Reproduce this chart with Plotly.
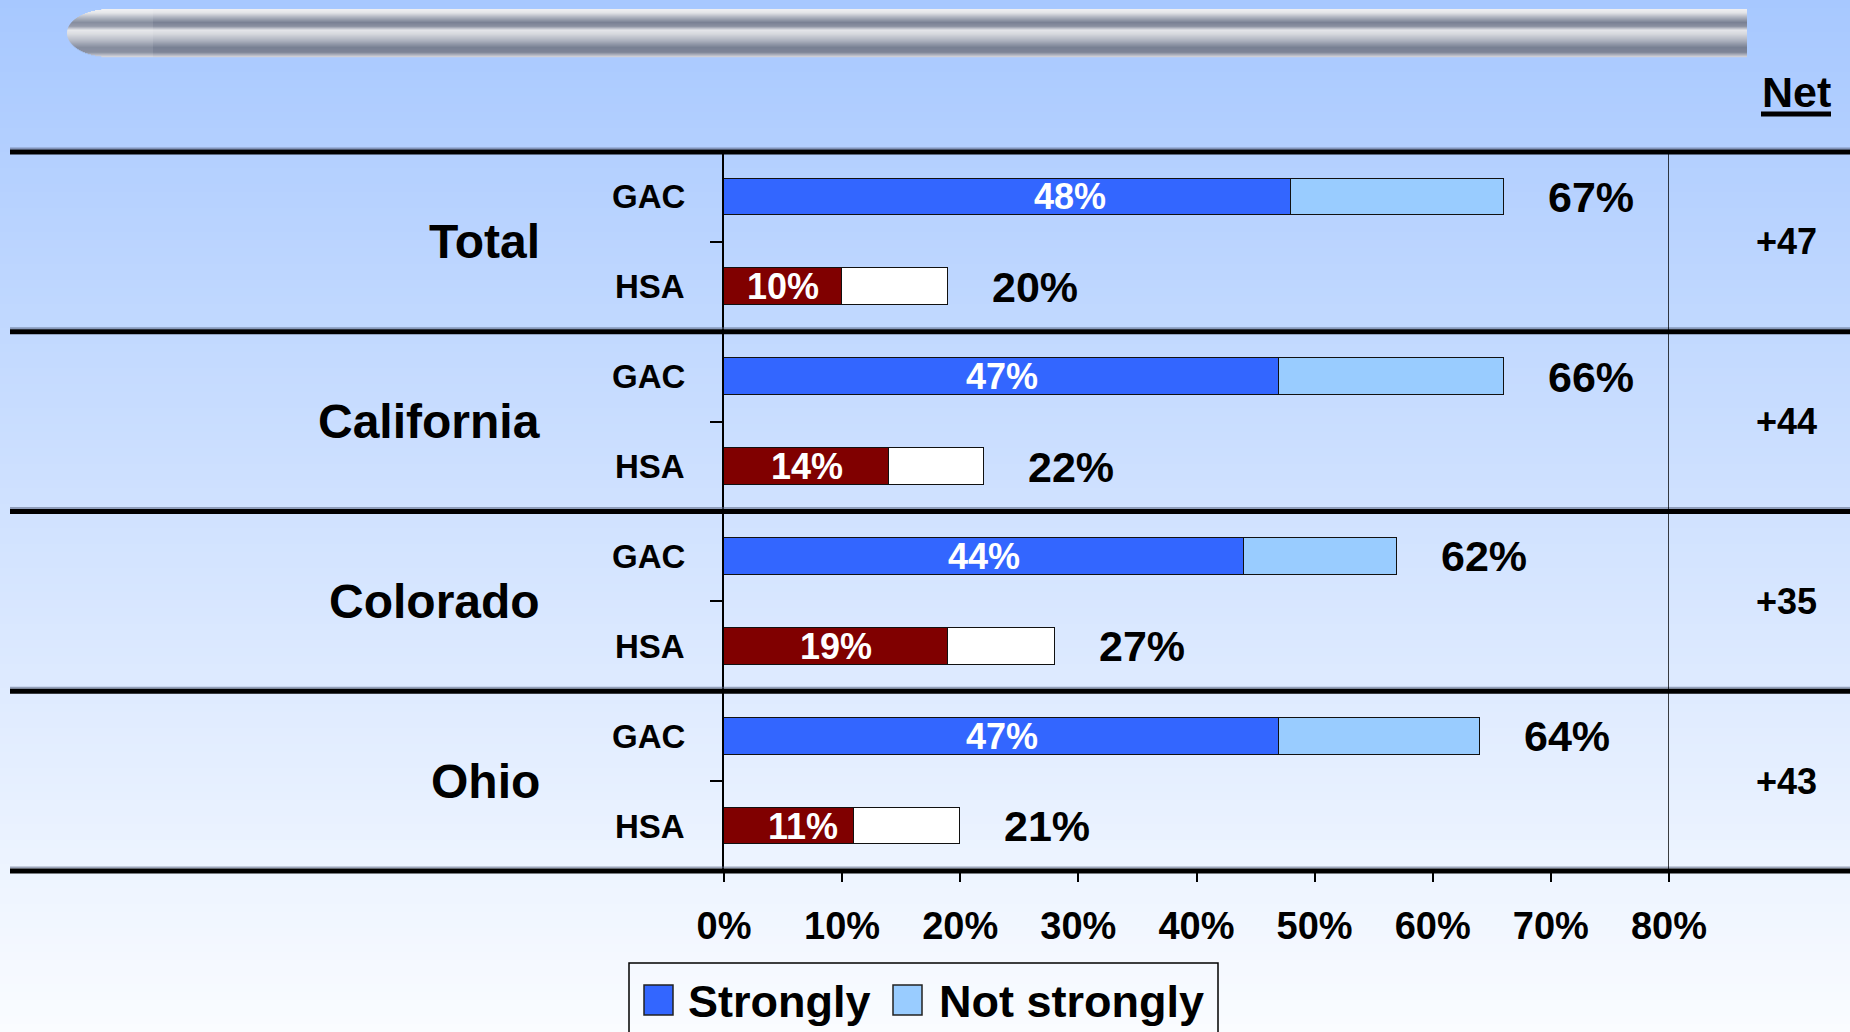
import plotly.graph_objects as go

# ---------------- data ----------------
groups = ["Total", "California", "Colorado", "Ohio"]
items = ["GAC", "HSA"]
gac_strongly = [48, 47, 44, 47]
gac_not_strongly = [18, 19, 13, 17]
hsa_strongly = [10, 14, 19, 11]
hsa_not_strongly = [9, 8, 9, 9]
gac_total_label = [67, 66, 62, 64]
hsa_total_label = [20, 22, 27, 21]
net_values = [47, 44, 35, 43]
series_names = ["Strongly", "Not strongly"]
x_ticks = [0, 10, 20, 30, 40, 50, 60, 70, 80]

# ---------------- style ----------------
FONT = "Liberation Sans, Arial, sans-serif"
GAC_COLORS = ["#3366FF", "#99CCFF"]
HSA_COLORS = ["#800000", "#FFFFFF"]
FIG_W, FIG_H = 1850, 1032
L, R, T, B = 724, 1669, 152, 871
W, H = R - L, B - T
N_ROWS = 2 * len(groups)


def px_x(px):
    return (px - L) / W


def px_y(py):
    return (B - py) / H


# rows: group g -> GAC at 2g, HSA at 2g+1
rows_y, strong_vals, weak_vals, strong_cols, weak_cols = [], [], [], [], []
total_labels = []
for g in range(len(groups)):
    rows_y += [2 * g, 2 * g + 1]
    strong_vals += [gac_strongly[g], hsa_strongly[g]]
    weak_vals += [gac_not_strongly[g], hsa_not_strongly[g]]
    strong_cols += [GAC_COLORS[0], HSA_COLORS[0]]
    weak_cols += [GAC_COLORS[1], HSA_COLORS[1]]
    total_labels += [gac_total_label[g], hsa_total_label[g]]

# small pixel nudges of inner labels as placed in the original
inner_nudge = {0: 62, 7: 14}

fig = go.Figure()
fig.add_trace(go.Bar(
    y=rows_y, x=strong_vals, orientation="h", width=0.41,
    marker=dict(color=strong_cols, line=dict(color="#111111", width=1.5)),
    name=series_names[0], showlegend=False, hoverinfo="skip"))
fig.add_trace(go.Bar(
    y=rows_y, x=weak_vals, orientation="h", width=0.41,
    marker=dict(color=weak_cols, line=dict(color="#111111", width=1.5)),
    name=series_names[1], showlegend=False, hoverinfo="skip"))

shapes = []
annotations = []


def lerp(c0, c1, t):
    return tuple(round(a + (b - a) * t) for a, b in zip(c0, c1))


# background gradient
top_c, bot_c = (167, 200, 255), (250, 252, 255)
band = 8
for py in range(0, FIG_H, band):
    c = lerp(top_c, bot_c, (py + band / 2) / FIG_H)
    shapes.append(dict(type="rect", xref="paper", yref="paper", layer="below",
                       x0=px_x(-5), x1=px_x(FIG_W + 5),
                       y0=px_y(py + band + 1), y1=px_y(py),
                       fillcolor="rgb(%d,%d,%d)" % c, line=dict(width=0)))

# metallic cylinder at top
prof = [(0.0, (240, 240, 242)), (0.08, (226, 227, 231)), (0.18, (170, 175, 188)),
        (0.28, (122, 129, 148)), (0.36, (138, 144, 161)), (0.44, (228, 229, 233)),
        (0.52, (214, 216, 221)), (0.66, (172, 177, 190)), (0.80, (120, 128, 147)),
        (0.90, (126, 133, 151)), (1.0, (214, 215, 221))]


def prof_col(t):
    for (t0, c0), (t1, c1) in zip(prof[:-1], prof[1:]):
        if t0 <= t <= t1:
            return lerp(c0, c1, (t - t0) / (t1 - t0))
    return prof[-1][1]


cy_top, cy_bot = 9, 57
cx, rx = 110, 43
cyc, ry = (cy_top + cy_bot) / 2, (cy_bot - cy_top) / 2
for py in range(cy_top, cy_bot):
    t = (py + 0.5 - cy_top) / (cy_bot - cy_top)
    c = prof_col(t)
    cap = lerp(c, (255, 255, 255), 0.10)
    d = (py + 0.5 - cyc) / ry
    left = cx - rx * max(0.0, 1 - d * d) ** 0.5
    shapes.append(dict(type="rect", xref="paper", yref="paper", layer="below",
                       x0=px_x(left), x1=px_x(153), y0=px_y(py + 1.3), y1=px_y(py),
                       fillcolor="rgb(%d,%d,%d)" % cap, line=dict(width=0)))
    shapes.append(dict(type="rect", xref="paper", yref="paper", layer="below",
                       x0=px_x(153), x1=px_x(1747), y0=px_y(py + 1.3), y1=px_y(py),
                       fillcolor="rgb(%d,%d,%d)" % c, line=dict(width=0)))

# thick horizontal separators (paper refs so they are not clipped)
for k in range(len(groups) + 1):
    yp = 1 - (2 * k) / N_ROWS
    shapes.append(dict(type="line", xref="paper", yref="paper",
                       x0=px_x(10), x1=px_x(FIG_W + 5), y0=yp + 3.5 / H, y1=yp + 3.5 / H,
                       line=dict(color="rgba(90,100,130,0.55)", width=2)))
    shapes.append(dict(type="line", xref="paper", yref="paper",
                       x0=px_x(10), x1=px_x(FIG_W + 5), y0=yp, y1=yp,
                       line=dict(color="black", width=5)))

# right vertical line at 80%
shapes.append(dict(type="line", xref="x", yref="paper", x0=80, x1=80, y0=0, y1=1,
                   line=dict(color="black", width=1.5)))

# "Net" header with underline
annotations.append(dict(xref="paper", yref="paper", x=px_x(1796), y=px_y(92),
                        text="Net", showarrow=False, xanchor="center", yanchor="middle",
                        font=dict(family=FONT, size=43, color="black", weight=700)))
shapes.append(dict(type="line", xref="paper", yref="paper",
                   x0=px_x(1761), x1=px_x(1831), y0=px_y(114), y1=px_y(114),
                   line=dict(color="black", width=5)))

for g, name in enumerate(groups):
    annotations.append(dict(xref="paper", yref="y", x=px_x(542), y=2 * g + 0.5,
                            text=name, showarrow=False, xanchor="right", yanchor="middle",
                            font=dict(family=FONT, size=48, color="black", weight=700)))
    annotations.append(dict(xref="paper", yref="y", x=px_x(1786), y=2 * g + 0.5,
                            text="+%d" % net_values[g], showarrow=False,
                            xanchor="center", yanchor="middle",
                            font=dict(family=FONT, size=36, color="black", weight=700)))

for i, yv in enumerate(rows_y):
    annotations.append(dict(xref="paper", yref="y", x=px_x(687), y=yv,
                            text=items[i % 2], showarrow=False, xanchor="right", yanchor="middle",
                            font=dict(family=FONT, size=33, color="black", weight=700)))
    annotations.append(dict(xref="x", yref="y", x=strong_vals[i] / 2, y=yv,
                            xshift=inner_nudge.get(i, 0),
                            text="%d%%" % strong_vals[i], showarrow=False,
                            xanchor="center", yanchor="middle",
                            font=dict(family=FONT, size=36, color="white", weight=700)))
    annotations.append(dict(xref="x", yref="y", x=strong_vals[i] + weak_vals[i], y=yv,
                            xshift=42, text="%d%%" % total_labels[i], showarrow=False,
                            xanchor="left", yanchor="middle",
                            font=dict(family=FONT, size=43, color="black", weight=700)))

# legend (drawn manually to match large swatches)
shapes.append(dict(type="rect", xref="paper", yref="paper",
                   x0=px_x(629), x1=px_x(1218), y0=px_y(1045), y1=px_y(963),
                   fillcolor="rgba(0,0,0,0)", line=dict(color="black", width=1.5)))
leg_sw = [644, 893]
leg_tx = [686, 937]
for k, nm in enumerate(series_names):
    shapes.append(dict(type="rect", xref="paper", yref="paper",
                       x0=px_x(leg_sw[k]), x1=px_x(leg_sw[k] + 29),
                       y0=px_y(1015), y1=px_y(985),
                       fillcolor=GAC_COLORS[k], line=dict(color="#222222", width=1.5)))
    annotations.append(dict(xref="paper", yref="paper", x=px_x(leg_tx[k]), y=px_y(1001),
                            text=nm, showarrow=False, xanchor="left", yanchor="middle",
                            font=dict(family=FONT, size=45, color="black", weight=700)))

fig.update_layout(
    width=FIG_W, height=FIG_H,
    margin=dict(l=L, r=FIG_W - R, t=T, b=FIG_H - B, pad=0),
    barmode="stack", bargap=0,
    paper_bgcolor="rgb(200,220,255)", plot_bgcolor="rgba(0,0,0,0)",
    showlegend=False,
    shapes=shapes, annotations=annotations,
    xaxis=dict(range=[0, 80], tickvals=x_ticks, ticktext=["%d%%" % v for v in x_ticks],
               ticks="outside", ticklen=10, tickwidth=1.5, tickcolor="black",
               showgrid=False, zeroline=False, showline=False, fixedrange=True,
               ticklabelstandoff=11,
               tickfont=dict(family=FONT, size=38, color="black", weight=700)),
    yaxis=dict(range=[7.5, -0.5], tickvals=[0.5, 2.5, 4.5, 6.5], ticktext=[""] * 4,
               ticks="outside", ticklen=12, tickwidth=1.5, tickcolor="black",
               showgrid=False, zeroline=False, showline=True, linewidth=2,
               linecolor="black", fixedrange=True),
)

fig.write_html("out.html", config={"displayModeBar": False},
               post_script="document.body.style.margin='0';document.body.style.overflow='hidden';")
